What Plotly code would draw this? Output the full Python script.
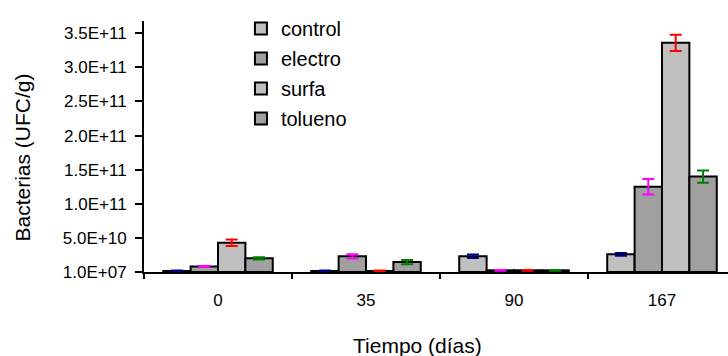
import plotly.graph_objects as go

categories = ["0", "35", "90", "167"]
series_names = ["control", "electro", "surfa", "tolueno"]

control = [1.5e9, 1.5e9, 2.3e10, 2.6e10]
control_err = [0.8e9, 0.6e9, 2.5e9, 2.0e9]
electro = [8.0e9, 2.3e10, 2.5e9, 1.25e11]
electro_err = [0.8e9, 3.2e9, 0.6e9, 1.15e10]
surfa = [4.3e10, 1.5e9, 2.5e9, 3.36e11]
surfa_err = [4.8e9, 0.6e9, 0.6e9, 1.2e10]
tolueno = [2.0e10, 1.45e10, 2.5e9, 1.40e11]
tolueno_err = [1.5e9, 3.2e9, 0.6e9, 9.0e9]

y_tick_labels = ["1.0E+07", "5.0E+10", "1.0E+11", "1.5E+11", "2.0E+11",
                 "2.5E+11", "3.0E+11", "3.5E+11"]

values = [control, electro, surfa, tolueno]
errors = [control_err, electro_err, surfa_err, tolueno_err]
fill_colors = ["#C0C0C0", "#A0A0A0", "#C0C0C0", "#A0A0A0"]
err_colors = ["#000080", "#FF00FF", "#FF0000", "#008000"]

FONT = "Liberation Sans, Arial, sans-serif"

fig = go.Figure()
for name, v, e, fc, ec in zip(series_names, values, errors, fill_colors, err_colors):
    fig.add_trace(go.Bar(
        x=categories, y=v, name=name, legendgroup=name,
        marker=dict(color=fc, line=dict(color="black", width=2)),
        error_y=dict(type="data", array=e, visible=True, color=ec,
                     thickness=2, width=6),
    ))

fig.update_layout(
    width=728, height=356,
    margin=dict(l=144, r=0, t=21, b=84, autoexpand=False),
    paper_bgcolor="white", plot_bgcolor="white",
    barmode="group", bargap=0.26, bargroupgap=0,
    font=dict(family=FONT, size=17, color="black"),
    legend=dict(x=0.166, y=1.048, xanchor="left", yanchor="top",
                font=dict(size=20, family=FONT), traceorder="grouped",
                tracegroupgap=1, bgcolor="rgba(0,0,0,0)"),
    xaxis=dict(type="category", range=[-0.5, 3.446], showline=True,
               linecolor="black", linewidth=2, ticks="outside",
               tickson="boundaries", ticklen=5, tickwidth=2,
               tickcolor="black", showgrid=False, zeroline=False,
               tickfont=dict(size=17), automargin=False,
               ticklabelstandoff=12),
    yaxis=dict(range=[1e7, 3.68e11], showline=True, linecolor="black",
               linewidth=2, ticks="outside", ticklen=7, tickwidth=2,
               tickcolor="black", showgrid=False, zeroline=False,
               tickvals=[float(t) for t in y_tick_labels],
               ticktext=y_tick_labels, tickfont=dict(size=17),
               ticklabelstandoff=5, automargin=False),
    annotations=[
        dict(text="Tiempo (días)", xref="paper", yref="paper",
             x=(417 - 144) / 584, y=-(345 - 272) / 251,
             xanchor="center", yanchor="middle", showarrow=False,
             font=dict(size=21, family=FONT)),
        dict(text="Bacterias (UFC/g)", xref="paper", yref="paper",
             x=-(144 - 22) / 584, y=(272 - 157.5) / 251,
             xanchor="center", yanchor="middle", textangle=-90,
             showarrow=False, font=dict(size=21, family=FONT)),
    ],
)

fig.write_html("out.html")
